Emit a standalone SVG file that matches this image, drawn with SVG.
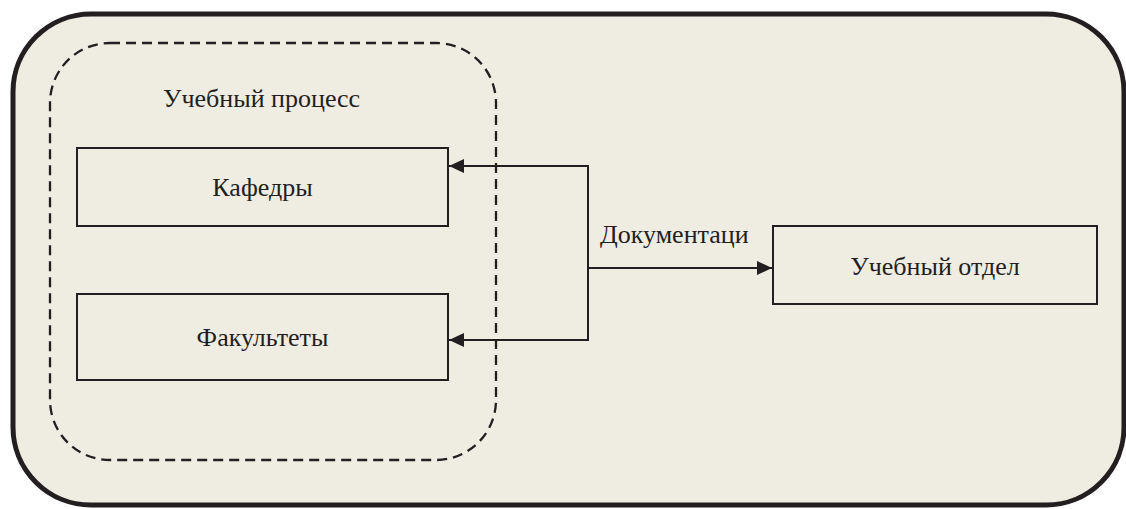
<svg xmlns="http://www.w3.org/2000/svg" width="1126" height="509" viewBox="0 0 1126 509">
<style>
text{font-family:"Liberation Serif","Times New Roman",serif;font-size:26px;fill:#231f20}
.box{fill:none;stroke:#231f20;stroke-width:2}
.conn{fill:none;stroke:#231f20;stroke-width:2}
</style>
<defs>
<marker id="ah" viewBox="0 0 15 14" refX="15" refY="7" markerWidth="15" markerHeight="14" markerUnits="userSpaceOnUse" orient="auto">
<path d="M0,0 L15,7 L0,14 Z" fill="#231f20"/>
</marker>
</defs>
<rect width="1126" height="509" fill="#ffffff"/>
<g id="frame">
<rect x="13" y="14" width="1111" height="491" rx="78" ry="78" fill="#efece2" stroke="#231f20" stroke-width="5"/>
</g>
<g id="process">
<rect x="50" y="43" width="446" height="417" rx="60" ry="60" fill="none" stroke="#231f20" stroke-width="2.3" stroke-dasharray="10,6"/>
<text x="163" y="107">Учебный процесс</text>
</g>
<g id="kafedry">
<rect class="box" x="77" y="148" width="371" height="78"/>
<text x="262.5" y="196" text-anchor="middle">Кафедры</text>
</g>
<g id="fakultety">
<rect class="box" x="77" y="294" width="371" height="86"/>
<text x="262.5" y="346" text-anchor="middle">Факультеты</text>
</g>
<g id="otdel">
<rect class="box" x="773" y="226" width="324" height="78"/>
<text x="935" y="275" text-anchor="middle">Учебный отдел</text>
</g>
<g id="connectors">
<polyline class="conn" points="588,268 588,166 449,166" marker-end="url(#ah)"/>
<polyline class="conn" points="588,268 588,340 449,340" marker-end="url(#ah)"/>
<line class="conn" x1="588" y1="268" x2="772" y2="268" marker-end="url(#ah)"/>
<text x="600" y="243">Документаци</text>
</g>
</svg>
